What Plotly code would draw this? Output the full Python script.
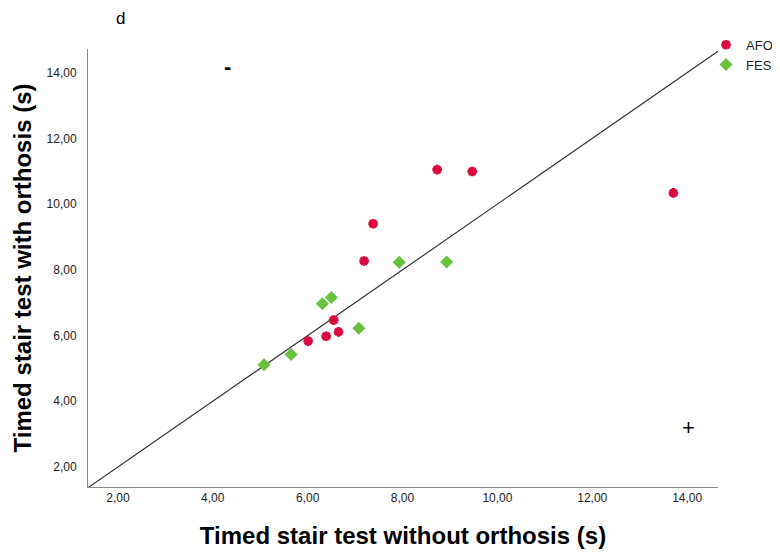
import plotly.graph_objects as go

# AFO group
afo_x = [8.73, 9.47, 7.38, 7.19, 6.55, 6.39, 6.65, 6.01, 13.71]
afo_y = [11.05, 10.99, 9.40, 8.27, 6.47, 5.98, 6.11, 5.83, 10.34]
# FES group
fes_x = [7.93, 8.93, 6.31, 6.50, 7.08, 5.65, 5.08]
fes_y = [8.23, 8.24, 6.97, 7.16, 6.22, 5.42, 5.11]

tick_vals = [2, 4, 6, 8, 10, 12, 14]
x_range = [1.37, 14.65]
y_range = [1.39, 14.72]

fig = go.Figure()

# identity reference line y = x
fig.add_trace(go.Scatter(
    x=[x_range[0], x_range[1]], y=[x_range[0], x_range[1]],
    mode="lines", line=dict(color="#333333", width=1.2),
    showlegend=False, hoverinfo="skip", cliponaxis=False))

fig.add_trace(go.Scatter(
    x=afo_x, y=afo_y, mode="markers", name="AFO",
    marker=dict(symbol="asterisk-open", size=8, color="#d9083f",
                line=dict(color="#d9083f", width=3))))
fig.add_trace(go.Scatter(
    x=fes_x, y=fes_y, mode="markers", name="FES",
    marker=dict(symbol="diamond", size=10, color="#66c23a",
                line=dict(width=0))))

fig.add_annotation(x=4.3, y=14.18, xref="x", yref="y", text="<b>-</b>",
                   showarrow=False, font=dict(size=22, color="black", family="Liberation Sans"))
fig.add_annotation(x=14.02, y=3.19, xref="x", yref="y", text="+",
                   showarrow=False, font=dict(size=22, color="black", family="Liberation Sans"))
fig.add_annotation(x=(120 - 88) / 630, y=1 + (49 - 18) / 438, xref="paper", yref="paper",
                   text="d", showarrow=False, xanchor="center", yanchor="middle",
                   font=dict(size=17, color="black", family="Liberation Sans"))

fig.update_layout(
    width=772, height=549,
    margin=dict(l=80, r=62, t=41, b=70, autoexpand=False),
    plot_bgcolor="white", paper_bgcolor="white",
    separators=", ",
    font=dict(family="Liberation Sans", color="#222222"),
    legend=dict(x=0.981, y=1.044, xanchor="left", yanchor="top",
                font=dict(size=13, color="#222222"), itemwidth=30,
                bgcolor="rgba(0,0,0,0)", tracegroupgap=0),
    xaxis=dict(range=x_range, tickvals=tick_vals, tickformat=".2f",
               showgrid=False, zeroline=False, showline=True,
               linecolor="#888888", linewidth=1, ticks="",
               tickfont=dict(size=12, color="#222222"),
               title=dict(text="<b>Timed stair test without orthosis (s)</b>",
                          font=dict(size=24, color="black"), standoff=22)),
    yaxis=dict(range=y_range, tickvals=tick_vals, tickformat=".2f",
               showgrid=False, zeroline=False, showline=True,
               linecolor="#888888", linewidth=1, ticks="",
               ticklabelstandoff=8,
               tickfont=dict(size=12, color="#222222"),
               title=dict(text="<b>Timed stair test with orthosis (s)</b>",
                          font=dict(size=24, color="black"), standoff=8)),
)

fig.write_html("out.html")
